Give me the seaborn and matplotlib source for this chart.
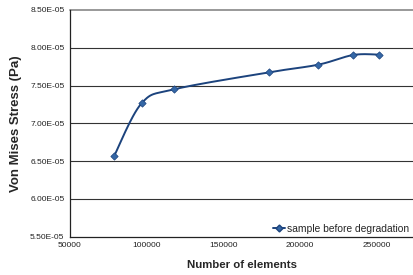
import numpy as np
import pandas as pd
import matplotlib
matplotlib.use("Agg")
import matplotlib.pyplot as plt
import seaborn as sns
from matplotlib.lines import Line2D
from matplotlib.ticker import FuncFormatter

# ---- data ----
elements = [78900, 96700, 118000, 180000, 212000, 234700, 251600]
stress = [6.573e-05, 7.266e-05, 7.451e-05, 7.676e-05, 7.777e-05, 7.905e-05, 7.909e-05]
series_name = "sample before degradation"
x_ticks = [50000, 100000, 150000, 200000, 250000]
y_ticks = [5.5e-05, 6.0e-05, 6.5e-05, 7.0e-05, 7.5e-05, 8.0e-05, 8.5e-05]

sns.set_theme(style="white")
plt.rcParams['font.family'] = ['Liberation Sans', 'DejaVu Sans']

fig = plt.figure(figsize=(4.14, 2.75), dpi=100)
ax = fig.add_axes([70/414, 1-236.7/275, 1-70/414, (236.7-10)/275])

xlim = (50000, 274300)
ylim = (5.5e-05, 8.5e-05)

# smooth curve (Catmull-Rom, like a spreadsheet "smoothed line") in scaled space
xs = np.array(elements, float); ys = np.array(stress, float)
sx = (xs - xlim[0]) / (xlim[1] - xlim[0]) * 344
sy = (ys - ylim[0]) / (ylim[1] - ylim[0]) * 227
P = np.column_stack([sx, sy])
Pp = np.vstack([P[0], P, P[-1]])
curve = []
for i in range(1, len(Pp) - 2):
    p0, p1, p2, p3 = Pp[i-1], Pp[i], Pp[i+1], Pp[i+2]
    c1 = p1 + (p2 - p0) / 6
    c2 = p2 - (p3 - p1) / 6
    t = np.linspace(0, 1, 30)[:, None]
    seg = (1-t)**3*p1 + 3*(1-t)**2*t*c1 + 3*(1-t)*t**2*c2 + t**3*p2
    curve.append(seg if i == 1 else seg[1:])
curve = np.vstack(curve)
cx = curve[:, 0] / 344 * (xlim[1] - xlim[0]) + xlim[0]
cy = curve[:, 1] / 227 * (ylim[1] - ylim[0]) + ylim[0]

line_color = "#1C437D"
marker_color = "#3467A6"
sns.lineplot(x=cx, y=cy, ax=ax, color=line_color, linewidth=1.4, sort=False, estimator=None)
df = pd.DataFrame({"x": elements, "y": stress})
sns.scatterplot(data=df, x="x", y="y", ax=ax, marker="D", s=14, color=marker_color,
                edgecolor=line_color, linewidth=0.5, zorder=5)

ax.set_xlim(*xlim)
ax.set_ylim(*ylim)
ax.set_xticks(x_ticks)
ax.set_yticks(y_ticks)
ax.xaxis.set_major_formatter(FuncFormatter(lambda v, p: f"{int(v)}"))
ax.yaxis.set_major_formatter(FuncFormatter(lambda v, p: f"{v:.2E}"))
ax.tick_params(axis="both", length=0, labelsize=6, colors="#222222", pad=4)

ax.grid(False)
for v in y_ticks[1:-1]:
    ax.axhline(v, color="#333333", linewidth=0.8, zorder=1)
ax.axhline(y_ticks[-1], color="#999999", linewidth=1.4, zorder=1, clip_on=False)

for s in ["top", "right"]:
    ax.spines[s].set_visible(False)
ax.spines["left"].set_color("#222222")
ax.spines["left"].set_linewidth(0.9)
ax.spines["bottom"].set_color("#222222")
ax.spines["bottom"].set_linewidth(0.9)

ax.set_xlabel("Number of elements", fontsize=8.2, fontweight="bold", labelpad=8)
ax.set_ylabel("Von Mises Stress (Pa)", fontsize=9.5, fontweight="bold", labelpad=6)

handle = Line2D([0], [0], color=line_color, linewidth=1.4, marker="D", markersize=3.5,
                markerfacecolor=marker_color, markeredgecolor=line_color)
leg = ax.legend([handle], [series_name], loc="center left",
                bbox_to_anchor=(273/414, 1-229/275), bbox_transform=fig.transFigure,
                frameon=False, fontsize=7.4, handlelength=1.2, handletextpad=0.15,
                borderpad=0, borderaxespad=0)

fig.savefig("out.png", dpi=100)
